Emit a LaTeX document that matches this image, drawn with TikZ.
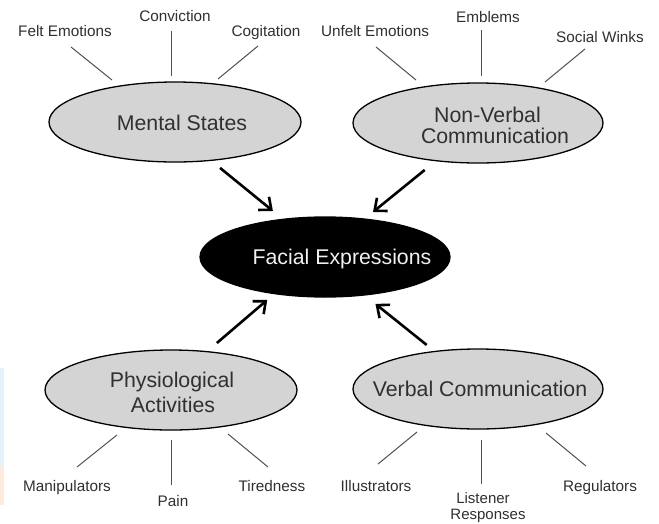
\documentclass[tikz,border=0pt]{standalone}
\usepackage{fontspec}
\setmainfont{Liberation Sans}
\usetikzlibrary{shapes.geometric,arrows.meta}
\definecolor{ellfill}{HTML}{D4D4D4}
\definecolor{txt}{HTML}{303030}
\definecolor{spk}{HTML}{505050}
\begin{document}
\begin{tikzpicture}[x=1pt,y=-1pt,
  ell/.style={ellipse,draw=black,line width=1.3pt,fill=ellfill,minimum height=80pt,inner sep=0pt,outer sep=0pt},
  big/.style={anchor=base,inner sep=0pt,text=txt,font=\fontsize{21.3}{25}\selectfont},
  small/.style={anchor=base,inner sep=0pt,text=txt,font=\fontsize{15.3}{17}\selectfont},
  spoke/.style={draw=spk,line width=1pt},
  arr/.style={draw=black,line width=2.6pt,-{Straight Barb[length=10pt,width=17pt]}}]
\useasboundingbox (0,0) rectangle (659,523);
\fill[fill=white] (0,0) rectangle (659,523);
% faint edge marks
\fill[color={rgb,255:red,228;green,243;blue,250}] (0,368) rectangle (4,465);
\fill[color={rgb,255:red,253;green,236;blue,222}] (0,465) rectangle (4,505);
% ellipses
\node[ell,minimum width=252pt] (ms) at (175,122) {};
\node[ell,minimum width=250pt] (nv) at (478,123) {};
\node[ellipse,fill=black,draw=black,line width=1.3pt,minimum width=250pt,minimum height=80pt,inner sep=0pt,outer sep=0pt] (fe) at (325,257) {};
\node[ell,minimum width=252pt] (pa) at (171,390) {};
\node[ell,minimum width=250pt] (va) at (478,389) {};
% ellipse texts
\node[big] (msT) at (182,130) {Mental States};
\node[big] (nvT1) at (487.5,122) {Non-Verbal};
\node[big] (nvT2) at (495,143) {Communication};
\node[big,text={rgb,255:red,240;green,240;blue,240}] (feT) at (342,264) {Facial Expressions};
\node[big] (paT1) at (172,387) {Physiological};
\node[big] (paT2) at (173,412) {Activities};
\node[big] (vaT) at (480,396) {Verbal Communication};
% arrows
\draw[arr,shorten <=12pt,shorten >=13.2pt] (ms.-47) -- (fe.138.7);
\draw[arr,shorten <=14.7pt,shorten >=11.2pt] (nv.222.2) -- (fe.44);
\draw[arr,shorten <=13.3pt,shorten >=9.7pt] (pa.47) -- (fe.216.5);
\draw[arr,shorten <=10.4pt,shorten >=14.3pt] (va.139.5) -- (fe.-44.4);
% small labels
\node[small] (l1) at (65,36) {Felt Emotions};
\node[small] (l2) at (175,21) {Conviction};
\node[small] (l3) at (266,36) {Cogitation};
\node[small] (l4) at (375,36) {Unfelt Emotions};
\node[small] (l5) at (488,22) {Emblems};
\node[small] (l6) at (600,42) {Social Winks};
\node[small] (l7) at (67,491) {Manipulators};
\node[small] (l8) at (173,506) {Pain};
\node[small] (l9) at (272,491) {Tiredness};
\node[small] (l10) at (376,491) {Illustrators};
\node[small,font=\fontsize{15}{17}\selectfont] (l11a) at (483,503) {Listener};
\node[small,font=\fontsize{15}{17}\selectfont] (l11b) at (488,519.6) {Responses};
\node[small] (l12) at (600,491) {Regulators};
% spoke coordinates
\coordinate (s1a) at (112,80);  \coordinate (s1b) at (71,47);
\coordinate (s2a) at (171,76);  \coordinate (s2b) at (171,31);
\coordinate (s3a) at (218,79);  \coordinate (s3b) at (258,46);
\coordinate (s4a) at (416,80);  \coordinate (s4b) at (376,47);
\coordinate (s5a) at (481,76);  \coordinate (s5b) at (481,30);
\coordinate (s6a) at (545,82);  \coordinate (s6b) at (585,49);
\coordinate (s7a) at (117,435); \coordinate (s7b) at (77,467);
\coordinate (s8a) at (171,440); \coordinate (s8b) at (171,485);
\coordinate (s9a) at (228,434); \coordinate (s9b) at (268,467);
\coordinate (s10a) at (417,432); \coordinate (s10b) at (378,464);
\coordinate (s11a) at (481,440); \coordinate (s11b) at (481,484);
\coordinate (s12a) at (546,433); \coordinate (s12b) at (586,466);
\foreach \i in {1,...,12} { \draw[spoke] (s\i a) -- (s\i b); }
\end{tikzpicture}
\end{document}
